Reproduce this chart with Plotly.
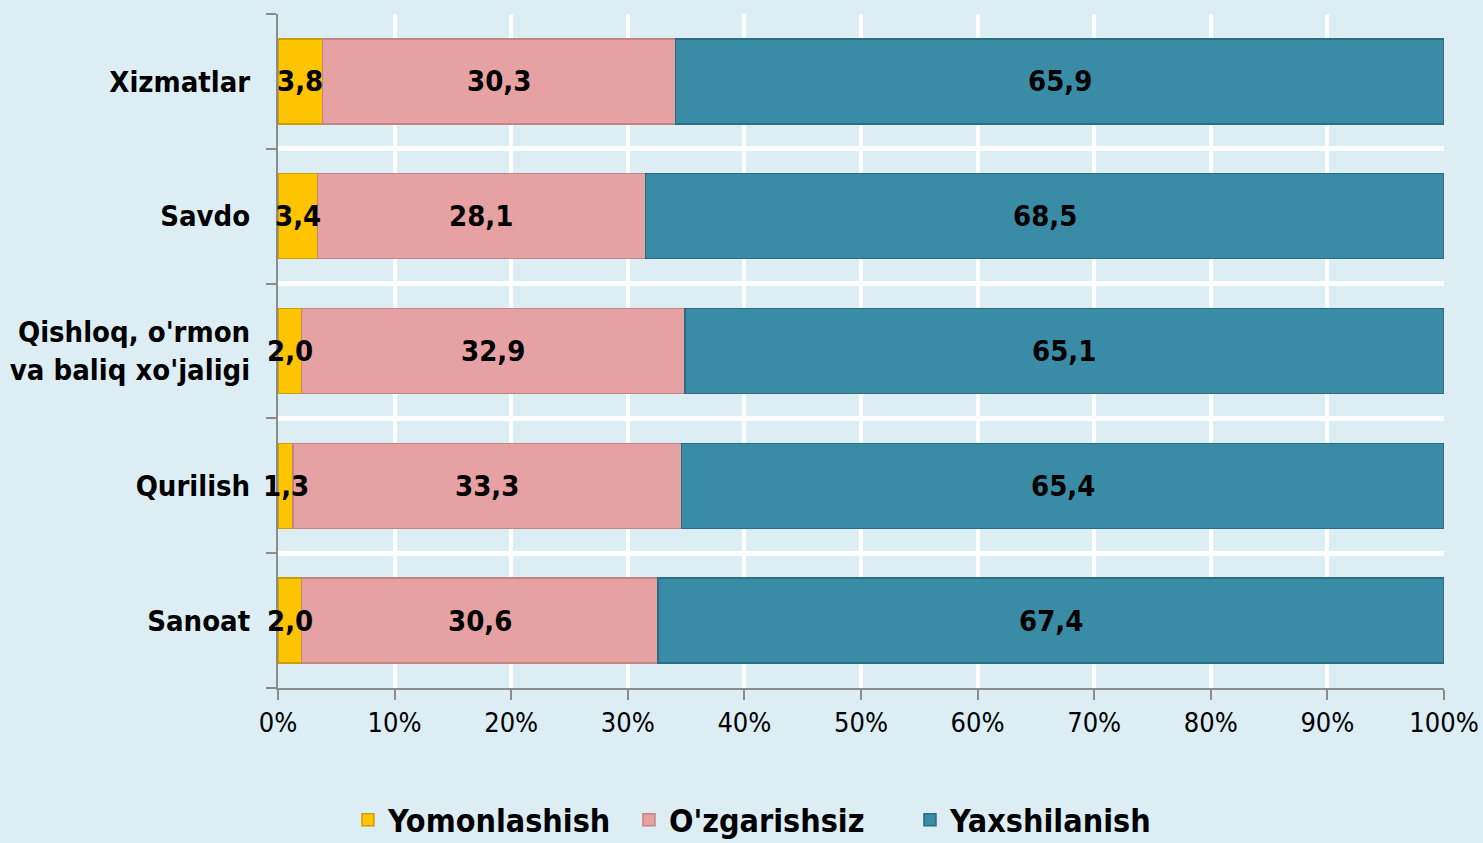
import plotly.graph_objects as go

categories = ["Sanoat", "Qurilish", "Qishloq, o'rmon<br>va baliq xo'jaligi", "Savdo", "Xizmatlar"]
yomonlashish = [2.0, 1.3, 2.0, 3.4, 3.8]
ozgarishsiz = [30.6, 33.3, 32.9, 28.1, 30.3]
yaxshilanish = [67.4, 65.4, 65.1, 68.5, 65.9]
series_names = ["Yomonlashish", "O'zgarishsiz", "Yaxshilanish"]
x_ticks = [0, 10, 20, 30, 40, 50, 60, 70, 80, 90, 100]
x_tick_labels = [f"{v}%" for v in x_ticks]

colors = ["#FFC400", "#E6A1A2", "#3A8CA6"]
edges = ["#C9A000", "#C48485", "#2A6E84"]
FONT = "DejaVu Sans Condensed"

def fmt(v):
    return f"{v:.1f}".replace(".", ",")

all_series = [yomonlashish, ozgarishsiz, yaxshilanish]

fig = go.Figure()
for name, vals, c, e in zip(series_names, all_series, colors, edges):
    fig.add_trace(go.Bar(
        y=categories, x=vals, name=name, orientation="h",
        marker=dict(color=c, line=dict(color=e, width=1.5)),
        textposition="none", hoverinfo="skip",
    ))

# value labels centred on each segment (positions derived from the data)
for i, cat in enumerate(categories):
    start = 0.0
    for vals in all_series:
        v = vals[i]
        fig.add_annotation(
            x=start + v / 2, y=cat, xref="x", yref="y", text=fmt(v),
            showarrow=False,
            font=dict(family=FONT, size=29, color="black", weight="bold"),
        )
        start += v

fig.update_layout(
    barmode="stack", bargap=0.37,
    width=1483, height=843,
    margin=dict(l=278, r=39, t=14, b=155, autoexpand=False),
    paper_bgcolor="#DCEEF4", plot_bgcolor="#DCEEF4",
    font=dict(family=FONT, color="black"),
    showlegend=True,
    legend=dict(orientation="h", traceorder="normal", x=0.06, xanchor="left", y=-0.155, yanchor="top",
                font=dict(family=FONT, size=32, weight="bold"),
                itemwidth=30, entrywidth=236, entrywidthmode="pixels",
                tracegroupgap=0, bgcolor="rgba(0,0,0,0)"),
)
fig.update_xaxes(
    range=[0, 100], tickvals=x_ticks, ticktext=x_tick_labels,
    showgrid=True, gridcolor="white", gridwidth=4,
    showline=True, linecolor="#8C8C8C", linewidth=2,
    ticks="outside", ticklen=10, tickcolor="#8C8C8C", tickwidth=2,
    tickfont=dict(family=FONT, size=27, color="black"),
    ticklabeloverflow="allow", zeroline=False,
)
fig.update_yaxes(
    tickson="boundaries", showgrid=True, gridcolor="white", gridwidth=5,
    showline=True, linecolor="#8C8C8C", linewidth=2,
    ticks="outside", ticklen=10, tickcolor="#8C8C8C", tickwidth=2,
    ticklabelstandoff=20,
    tickfont=dict(family=FONT, size=29, color="black", weight="bold"),
    categoryorder="array", categoryarray=categories,
)

fig.write_html("out.html", config={"displayModeBar": False},
               post_script="document.body.style.margin='0';")
